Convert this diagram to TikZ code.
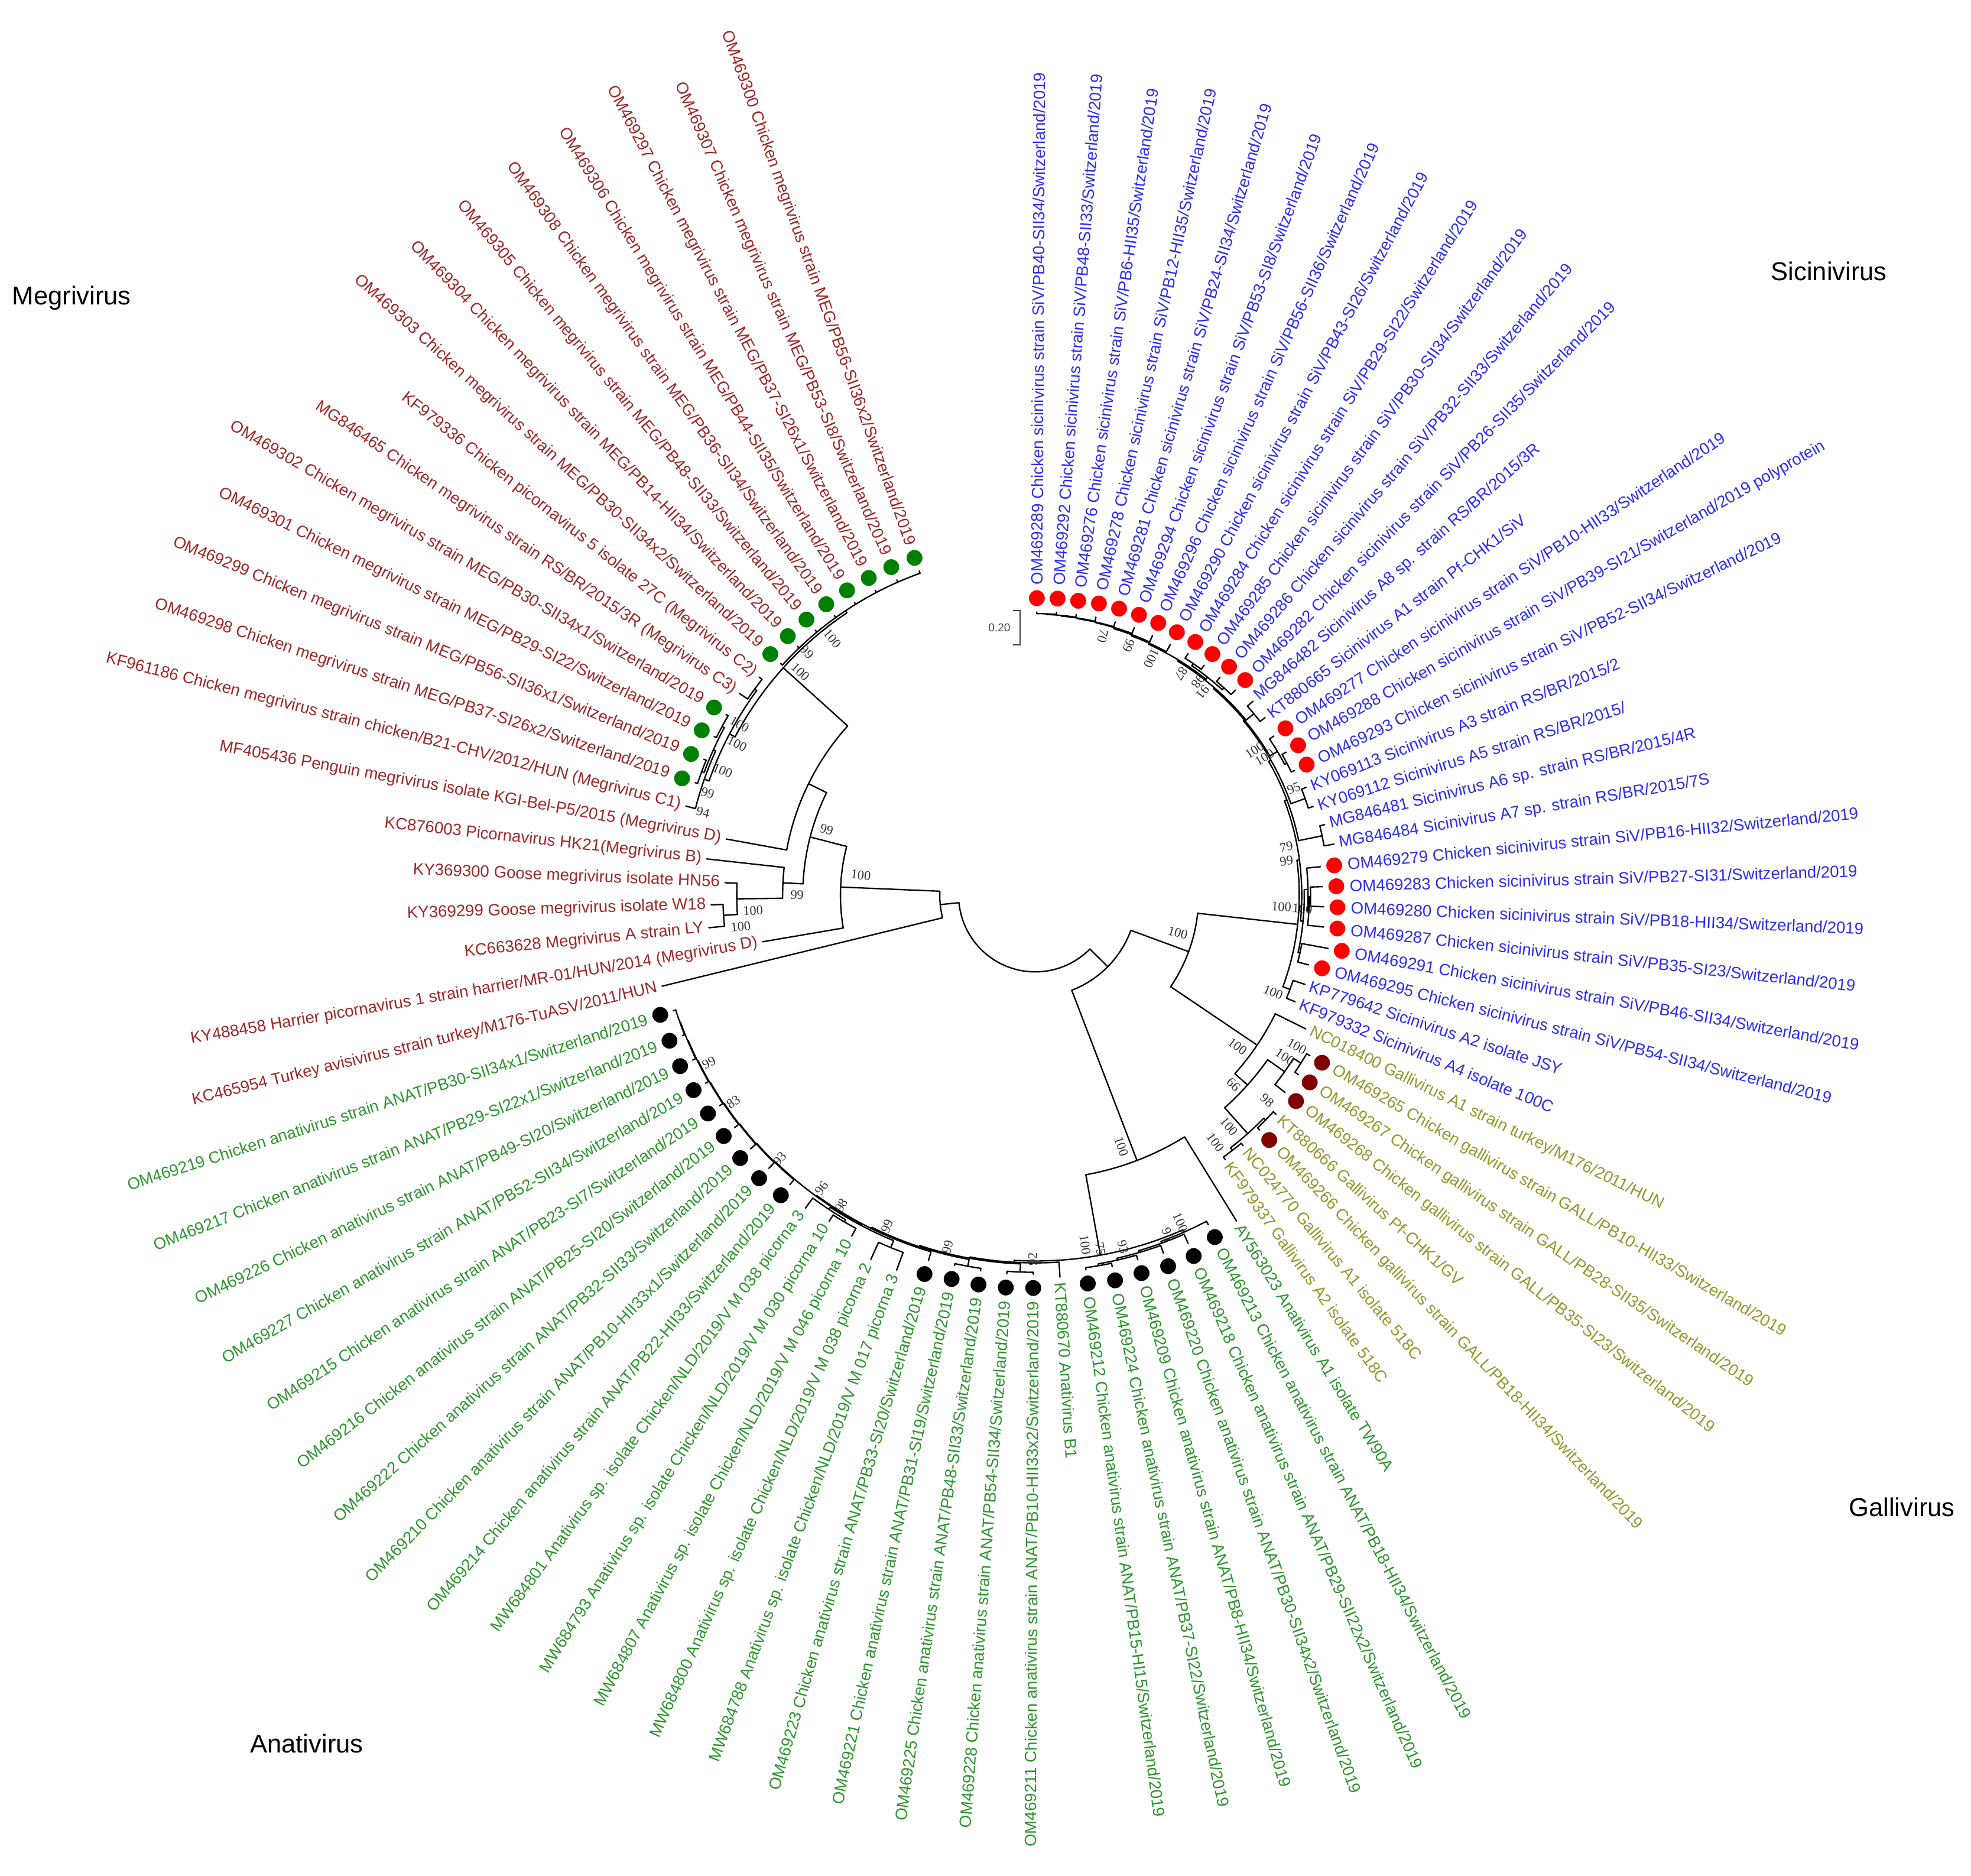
\documentclass[tikz,border=0pt]{standalone}
\usepackage{fontspec}
\setmainfont{Liberation Sans}
\newfontfamily\bsfont{Liberation Serif}
\definecolor{sic}{RGB}{45,45,245}
\definecolor{meg}{RGB}{160,40,40}
\definecolor{gal}{RGB}{150,150,45}
\definecolor{ana}{RGB}{45,150,45}
\definecolor{dgreen}{RGB}{0,128,0}
\definecolor{dred}{RGB}{128,0,0}
\def\nonestr{none}
\newcommand\tArc[3]{\draw[br] (#1:#3pt) arc[start angle=#1,end angle=#2,radius=#3pt];}
\newcommand\tRad[3]{\draw[br] (#1:#2pt) -- (#1:#3pt);}
\newcommand\tLeaf[6]{%
  \pgfmathsetmacro\ang{89.7-4*#1}%
  \draw[br] (\ang:#2pt) -- (\ang:#3pt);%
  \def\leafdot{#5}%
  \ifx\leafdot\nonestr
    \pgfmathsetmacro\lr{#3+4}%
  \else
    \pgfmathsetmacro\dr{#3+11}%
    \fill[#5] (\ang:\dr pt) circle[radius=6.3pt];%
    \pgfmathsetmacro\lr{#3+21.5}%
  \fi
  \ifnum#1<45
    \node[lbl,text=#4,anchor=west,rotate=\ang] (l#1) at (\ang:\lr pt) {#6};%
  \else
    \pgfmathsetmacro\angf{\ang+180}%
    \node[lbl,text=#4,anchor=east,rotate=\angf] (l#1) at (\ang:\lr pt) {#6};%
  \fi}
\newcommand\tBoot[3]{\pgfmathsetmacro\brot{cos(#1)<0 ? #1+180 : #1}%
  \node[bs,rotate=\brot] at (#1:#2pt) {#3};}
\newcommand\tBootF[3]{\pgfmathsetmacro\brot{cos(#1)<0 ? #1 : #1+180}%
  \node[bs,rotate=\brot] at (#1:#2pt) {#3};}
\begin{document}
\begin{tikzpicture}[x=1pt,y=1pt,
  br/.style={line width=1.1pt,black,line cap=round},
  lbl/.style={font=\fontsize{13}{15}\selectfont,inner sep=0pt},
  bs/.style={font=\bsfont\fontsize{10.5}{12}\selectfont,inner sep=0pt,text=black!80},
  clade/.style={font=\fontsize{20.5}{24}\selectfont,text=black,inner sep=0pt}]
\useasboundingbox (0,0) rectangle (1568,1492);
\fill[white] (0,0) rectangle (1568,1492);
\begin{scope}[shift={(823.6,779.9)}]
% ---------- root and megrivirus side
\tArc{185.65}{315.39}{61}
\tRad{185.65}{61}{76} \tArc{177.61}{193.7}{76}
\tRad{177.61}{76}{155} \tArc{165.51}{189.7}{155}
\tRad{165.51}{155}{185} \tArc{153.825}{177.2}{185}
\tRad{177.2}{185}{201} \tArc{173.7}{180.7}{201}
\tRad{180.7}{201}{237.5} \tArc{177.7}{183.7}{237.5}
\tRad{183.7}{237.5}{248.5} \tArc{181.7}{185.7}{248.5}
\tRad{153.825}{185}{201} \tArc{137.95}{169.7}{201}
\tRad{137.95}{201}{270} \tArc{123.7}{152.2}{270}
\tRad{123.7}{270}{272} \tArc{109.7}{137.7}{272}
\tRad{152.2}{270}{275} \tArc{143.7}{160.7}{275}
\tRad{143.7}{275}{277} \tArc{141.7}{145.7}{277}
\tRad{160.7}{275}{279} \tArc{155.7}{165.7}{279}
\tRad{155.7}{279}{281} \tArc{151.7}{159.7}{281}
\tRad{159.7}{281}{283} \tArc{157.7}{161.7}{283}
\tRad{151.7}{281}{283} \tArc{149.7}{153.7}{283}
% ---------- Y
\tRad{315.39}{61}{81} \tArc{290.975}{339.8}{81}
% ---------- Anativirus
\tRad{290.975}{81}{226} \tArc{280.25}{301.7}{226}
\tRad{280.25}{226}{291} \tArc{266.7}{293.8}{291}
\tRad{293.8}{291}{293} \tArc{289.95}{297.7}{293}
\tRad{289.95}{293}{294.5} \tArc{286.2}{293.7}{294.5}
\tRad{286.2}{294.5}{296} \tArc{282.7}{289.7}{296}
\tRad{282.7}{296}{297.5} \tArc{279.7}{285.7}{297.5}
\tRad{279.7}{297.5}{299} \tArc{277.7}{281.7}{299}
\tRad{266.7}{291}{292.5} \tArc{259.73}{273.7}{292.5}
\tRad{259.73}{292.5}{293.5} \tArc{251.76}{267.7}{293.5}
\tRad{267.7}{293.5}{300} \tArc{265.7}{269.7}{300}
\tRad{251.76}{293.5}{294.5} \tArc{243.8}{259.7}{294.5}
\tRad{259.7}{294.5}{300} \tArc{257.7}{261.7}{300}
\tRad{243.8}{294.5}{295.5} \tArc{233.96}{253.7}{295.5}
\tRad{233.96}{295.5}{296.2} \tArc{225.715}{242.2}{296.2}
\tRad{242.2}{296.2}{297} \tArc{236.7}{247.7}{297}
\tRad{247.7}{297}{303} \tArc{245.7}{249.7}{303}
\tRad{236.7}{297}{299} \tArc{233.7}{239.7}{299}
\tRad{239.7}{299}{301} \tArc{237.7}{241.7}{301}
\tRad{225.715}{296.2}{296.8} \tArc{221.73}{229.7}{296.8}
\tRad{221.73}{296.8}{297.3} \tArc{217.76}{225.7}{297.3}
\tRad{217.76}{297.3}{297.8} \tArc{213.825}{221.7}{297.8}
\tRad{213.825}{297.8}{298.3} \tArc{209.95}{217.7}{298.3}
\tRad{209.95}{298.3}{298.8} \tArc{206.2}{213.7}{298.8}
\tRad{206.2}{298.8}{299.3} \tArc{202.7}{209.7}{299.3}
\tRad{202.7}{299.3}{299.8} \tArc{199.7}{205.7}{299.8}
\tRad{199.7}{299.8}{300.3} \tArc{197.7}{201.7}{300.3}
% ---------- Z and Gallivirus
\tRad{339.8}{81}{130} \tArc{325.95}{353.65}{130}
\tRad{325.95}{130}{213} \tArc{318.2}{333.7}{213}
\tRad{318.2}{213}{226.5} \tArc{311.7}{324.7}{226.5}
\tRad{324.7}{226.5}{243} \tArc{321.7}{327.7}{243}
\tRad{327.7}{243}{250} \tArc{325.7}{329.7}{250}
\tRad{311.7}{226.5}{254} \tArc{307.7}{315.7}{254}
\tRad{315.7}{254}{256} \tArc{313.7}{317.7}{256}
\tRad{307.7}{254}{256.5} \tArc{305.7}{309.7}{256.5}
% ---------- Sicinivirus
\tRad{353.65}{130}{210} \tArc{-20.3}{7.605}{210}
\tRad{-20.3}{210}{216} \tArc{-22.3}{-18.3}{216}
\tRad{7.605}{210}{212} \tArc{-5.55}{20.76}{212}
\tRad{-5.55}{212}{214} \tArc{-12.3}{1.2}{214}
\tRad{1.2}{214}{217} \tArc{-3.3}{5.7}{217}
\tRad{-3.3}{217}{218} \tArc{-6.3}{-0.3}{218}
\tRad{-0.3}{218}{219} \tArc{-2.3}{1.7}{219}
\tRad{-12.3}{214}{215.5} \tArc{-14.3}{-10.3}{215.5}
\tRad{20.76}{212}{214} \tArc{11.7}{29.82}{214}
\tRad{11.7}{214}{233} \tArc{9.7}{13.7}{233}
\tRad{29.82}{214}{216} \tArc{19.7}{39.95}{216}
\tRad{19.7}{216}{228} \tArc{17.7}{21.7}{228}
\tRad{39.95}{216}{217} \tArc{30.7}{49.19}{217}
\tRad{30.7}{217}{224} \tArc{27.7}{33.7}{224}
\tRad{27.7}{224}{226} \tArc{25.7}{29.7}{226}
\tRad{49.19}{217}{218} \tArc{39.7}{58.68}{218}
\tRad{39.7}{218}{226} \tArc{37.7}{41.7}{226}
\tRad{58.68}{218}{219} \tArc{51.7}{65.67}{219}
\tRad{51.7}{219}{221} \tArc{47.7}{55.7}{221}
\tRad{55.7}{221}{223} \tArc{53.7}{57.7}{223}
\tRad{47.7}{221}{223} \tArc{45.7}{49.7}{223}
\tRad{65.67}{219}{220} \tArc{61.7}{69.64}{220}
\tRad{69.64}{220}{221} \tArc{65.7}{73.575}{221}
\tRad{73.575}{221}{222} \tArc{69.7}{77.45}{222}
\tRad{77.45}{222}{222.5} \tArc{73.7}{81.2}{222.5}
\tRad{81.2}{222.5}{223} \tArc{77.7}{84.7}{223}
\tRad{84.7}{223}{223.5} \tArc{81.7}{87.7}{223.5}
\tRad{87.7}{223.5}{224} \tArc{85.7}{89.7}{224}
% ---------- leaves
\tLeaf{0}{224}{225.3}{sic}{red}{OM469289 Chicken sicinivirus strain SiV/PB40-SII34/Switzerland/2019}
\tLeaf{1}{224}{225.6}{sic}{red}{OM469292 Chicken sicinivirus strain SiV/PB48-SII33/Switzerland/2019}
\tLeaf{2}{223.5}{225.7}{sic}{red}{OM469276 Chicken sicinivirus strain SiV/PB6-HII35/Switzerland/2019}
\tLeaf{3}{223}{226.5}{sic}{red}{OM469278 Chicken sicinivirus strain SiV/PB12-HII35/Switzerland/2019}
\tLeaf{4}{222.5}{226.5}{sic}{red}{OM469281 Chicken sicinivirus strain SiV/PB24-SII34/Switzerland/2019}
\tLeaf{5}{222}{226.8}{sic}{red}{OM469294 Chicken sicinivirus strain SiV/PB53-SI8/Switzerland/2019}
\tLeaf{6}{221}{226.6}{sic}{red}{OM469296 Chicken sicinivirus strain SiV/PB56-SII36/Switzerland/2019}
\tLeaf{7}{220}{226.6}{sic}{red}{OM469290 Chicken sicinivirus strain SiV/PB43-SI26/Switzerland/2019}
\tLeaf{8}{223}{227.3}{sic}{red}{OM469284 Chicken sicinivirus strain SiV/PB29-SI22/Switzerland/2019}
\tLeaf{9}{223}{227}{sic}{red}{OM469285 Chicken sicinivirus strain SiV/PB30-SII34/Switzerland/2019}
\tLeaf{10}{223}{227.3}{sic}{red}{OM469286 Chicken sicinivirus strain SiV/PB32-SII33/Switzerland/2019}
\tLeaf{11}{223}{228.1}{sic}{red}{OM469282 Chicken sicinivirus strain SiV/PB26-SII35/Switzerland/2019}
\tLeaf{12}{226}{232}{sic}{none}{MG846482 Sicinivirus A8 sp. strain RS/BR/2015/3R}
\tLeaf{13}{226}{231}{sic}{none}{KT880665 Sicinivirus A1 strain Pf-CHK1/SiV}
\tLeaf{14}{224}{228.2}{sic}{red}{OM469277 Chicken sicinivirus strain SiV/PB10-HII33/Switzerland/2019}
\tLeaf{15}{226}{229.7}{sic}{red}{OM469288 Chicken sicinivirus strain SiV/PB39-SI21/Switzerland/2019 polyprotein}
\tLeaf{16}{226}{228.6}{sic}{red}{OM469293 Chicken sicinivirus strain SiV/PB52-SII34/Switzerland/2019}
\tLeaf{17}{228}{232}{sic}{none}{KY069113 Sicinivirus A3 strain RS/BR/2015/2}
\tLeaf{18}{228}{232}{sic}{none}{KY069112 Sicinivirus A5 strain RS/BR/2015/}
\tLeaf{19}{233}{237}{sic}{none}{MG846481 Sicinivirus A6 sp. strain RS/BR/2015/4R}
\tLeaf{20}{233}{241}{sic}{none}{MG846484 Sicinivirus A7 sp. strain RS/BR/2015/7S}
\tLeaf{21}{217}{228}{sic}{red}{OM469279 Chicken sicinivirus strain SiV/PB16-HII32/Switzerland/2019}
\tLeaf{22}{219}{228.6}{sic}{red}{OM469283 Chicken sicinivirus strain SiV/PB27-SI31/Switzerland/2019}
\tLeaf{23}{219}{229.6}{sic}{red}{OM469280 Chicken sicinivirus strain SiV/PB18-HII34/Switzerland/2019}
\tLeaf{24}{218}{230.8}{sic}{red}{OM469287 Chicken sicinivirus strain SiV/PB35-SI23/Switzerland/2019}
\tLeaf{25}{215.5}{236.8}{sic}{red}{OM469291 Chicken sicinivirus strain SiV/PB46-SII34/Switzerland/2019}
\tLeaf{26}{215.5}{224.4}{sic}{red}{OM469295 Chicken sicinivirus strain SiV/PB54-SII34/Switzerland/2019}
\tLeaf{27}{216}{226}{sic}{none}{KP779642 Sicinivirus A2 isolate JSY}
\tLeaf{28}{216}{223.5}{sic}{none}{KF979332 Sicinivirus A4 isolate 100C}
\tLeaf{29}{213}{240}{gal}{none}{NC018400 Gallivirus A1 strain turkey/M176/2011/HUN}
\tLeaf{30}{250}{253.2}{gal}{dred}{OM469265 Chicken gallivirus strain GALL/PB10-HII33/Switzerland/2019}
\tLeaf{31}{250}{253.3}{gal}{dred}{OM469267 Chicken gallivirus strain GALL/PB28-SII35/Switzerland/2019}
\tLeaf{32}{243}{253.3}{gal}{dred}{OM469268 Chicken gallivirus strain GALL/PB35-SI23/Switzerland/2019}
\tLeaf{33}{256}{259}{gal}{none}{KT880666 Gallivirus Pf-CHK1/GV}
\tLeaf{34}{256}{258.4}{gal}{dred}{OM469266 Chicken gallivirus strain GALL/PB18-HII34/Switzerland/2019}
\tLeaf{35}{256.5}{259}{gal}{none}{NC024770 Gallivirus A1 isolate 518C}
\tLeaf{36}{256.5}{259}{gal}{none}{KF979337 Gallivirus A2 isolate 518C}
\tLeaf{37}{226}{304.7}{ana}{none}{AY563023 Anativirus A1 isolate TW90A}
\tLeaf{38}{293}{296.2}{ana}{black}{OM469213 Chicken anativirus strain ANAT/PB18-HII34/Switzerland/2019}
\tLeaf{39}{294.5}{302.5}{ana}{black}{OM469218 Chicken anativirus strain ANAT/PB29-SII22x2/Switzerland/2019}
\tLeaf{40}{296}{302.5}{ana}{black}{OM469220 Chicken anativirus strain ANAT/PB30-SII34x2/Switzerland/2019}
\tLeaf{41}{297.5}{301.3}{ana}{black}{OM469209 Chicken anativirus strain ANAT/PB8-HII34/Switzerland/2019}
\tLeaf{42}{299}{301.9}{ana}{black}{OM469224 Chicken anativirus strain ANAT/PB37-SI22/Switzerland/2019}
\tLeaf{43}{299}{300.7}{ana}{black}{OM469212 Chicken anativirus strain ANAT/PB15-HI15/Switzerland/2019}
\tLeaf{44}{292.5}{304.6}{ana}{none}{KT880670 Anativirus B1}
\tLeaf{45}{300}{301.5}{ana}{black}{OM469211 Chicken anativirus strain ANAT/PB10-HII33x2/Switzerland/2019}
\tLeaf{46}{300}{302}{ana}{black}{OM469228 Chicken anativirus strain ANAT/PB54-SII34/Switzerland/2019}
\tLeaf{47}{300}{302}{ana}{black}{OM469225 Chicken anativirus strain ANAT/PB48-SII33/Switzerland/2019}
\tLeaf{48}{300}{301.5}{ana}{black}{OM469221 Chicken anativirus strain ANAT/PB31-SI19/Switzerland/2019}
\tLeaf{49}{295.5}{303}{ana}{black}{OM469223 Chicken anativirus strain ANAT/PB33-SI20/Switzerland/2019}
\tLeaf{50}{303}{318}{ana}{none}{MW684788 Anativirus sp. isolate Chicken/NLD/2019/V M 017 picorna 3}
\tLeaf{51}{303}{318}{ana}{none}{MW684800 Anativirus sp. isolate Chicken/NLD/2019/V M 038 picorna 2}
\tLeaf{52}{301}{308}{ana}{none}{MW684807 Anativirus sp. isolate Chicken/NLD/2019/V M 046 picorna 10}
\tLeaf{53}{301}{307}{ana}{none}{MW684793 Anativirus sp. isolate Chicken/NLD/2019/V M 030 picorna 10}
\tLeaf{54}{299}{309}{ana}{none}{MW684801 Anativirus sp. isolate Chicken/NLD/2019/V M 038 picorna 3}
\tLeaf{55}{296.8}{302}{ana}{black}{OM469214 Chicken anativirus strain ANAT/PB22-HII33/Switzerland/2019}
\tLeaf{56}{297.3}{303.6}{ana}{black}{OM469210 Chicken anativirus strain ANAT/PB10-HII33x1/Switzerland/2019}
\tLeaf{57}{297.8}{303.4}{ana}{black}{OM469222 Chicken anativirus strain ANAT/PB32-SII33/Switzerland/2019}
\tLeaf{58}{298.3}{302.3}{ana}{black}{OM469216 Chicken anativirus strain ANAT/PB25-SI20/Switzerland/2019}
\tLeaf{59}{298.8}{302}{ana}{black}{OM469215 Chicken anativirus strain ANAT/PB23-SI7/Switzerland/2019}
\tLeaf{60}{299.3}{302}{ana}{black}{OM469227 Chicken anativirus strain ANAT/PB52-SII34/Switzerland/2019}
\tLeaf{61}{299.8}{302.6}{ana}{black}{OM469226 Chicken anativirus strain ANAT/PB49-SI20/Switzerland/2019}
\tLeaf{62}{300.3}{302.2}{ana}{black}{OM469217 Chicken anativirus strain ANAT/PB29-SI22x1/Switzerland/2019}
\tLeaf{63}{300.3}{302.2}{ana}{black}{OM469219 Chicken anativirus strain ANAT/PB30-SII34x1/Switzerland/2019}
\tLeaf{64}{76}{305.7}{meg}{none}{KC465954 Turkey avisivirus strain turkey/M176-TuASV/2011/HUN}
\tLeaf{65}{155}{220}{meg}{none}{KY488458 Harrier picornavirus 1 strain harrier/MR-01/HUN/2014 (Megrivirus D)}
\tLeaf{66}{248.5}{261}{meg}{none}{KC663628 Megrivirus A strain LY}
\tLeaf{67}{248.5}{258}{meg}{none}{KY369299 Goose megrivirus isolate W18}
\tLeaf{68}{237.5}{247}{meg}{none}{KY369300 Goose megrivirus isolate HN56}
\tLeaf{69}{201}{263}{meg}{none}{KC876003 Picornavirus HK21(Megrivirus B)}
\tLeaf{70}{201}{250}{meg}{none}{MF405436 Penguin megrivirus isolate KGI-Bel-P5/2015 (Megrivirus D)}
\tLeaf{71}{279}{287}{meg}{none}{KF961186 Chicken megrivirus strain chicken/B21-CHV/2012/HUN (Megrivirus C1)}
\tLeaf{72}{283}{285}{meg}{dgreen}{OM469298 Chicken megrivirus strain MEG/PB37-SI26x2/Switzerland/2019}
\tLeaf{73}{283}{285}{meg}{dgreen}{OM469299 Chicken megrivirus strain MEG/PB56-SII36x1/Switzerland/2019}
\tLeaf{74}{283}{285}{meg}{dgreen}{OM469301 Chicken megrivirus strain MEG/PB29-SI22/Switzerland/2019}
\tLeaf{75}{283}{285}{meg}{dgreen}{OM469302 Chicken megrivirus strain MEG/PB30-SII34x1/Switzerland/2019}
\tLeaf{76}{277}{285}{meg}{none}{MG846465 Chicken megrivirus strain RS/BR/2015/3R (Megrivirus C3)}
\tLeaf{77}{277}{280}{meg}{none}{KF979336 Chicken picornavirus 5 isolate 27C (Megrivirus C2)}
\tLeaf{78}{272}{274}{meg}{dgreen}{OM469303 Chicken megrivirus strain MEG/PB30-SII34x2/Switzerland/2019}
\tLeaf{79}{272}{274}{meg}{dgreen}{OM469304 Chicken megrivirus strain MEG/PB14-HII34/Switzerland/2019}
\tLeaf{80}{272}{274}{meg}{dgreen}{OM469305 Chicken megrivirus strain MEG/PB48-SII33/Switzerland/2019}
\tLeaf{81}{272}{274}{meg}{dgreen}{OM469308 Chicken megrivirus strain MEG/PB36-SII34/Switzerland/2019}
\tLeaf{82}{272}{274}{meg}{dgreen}{OM469306 Chicken megrivirus strain MEG/PB44-SII35/Switzerland/2019}
\tLeaf{83}{272}{274}{meg}{dgreen}{OM469297 Chicken megrivirus strain MEG/PB37-SI26x1/Switzerland/2019}
\tLeaf{84}{272}{274}{meg}{dgreen}{OM469307 Chicken megrivirus strain MEG/PB53-SI8/Switzerland/2019}
\tLeaf{85}{272}{274}{meg}{dgreen}{OM469300 Chicken megrivirus strain MEG/PB56-SII36x2/Switzerland/2019}
% ---------- bootstrap values
\tBoot{173.4}{139.7}{100}
\tBoot{162.6}{174}{99}
\tBoot{180}{189.5}{99}
\tBoot{183.1}{224.9}{100}
\tBoot{186.1}{235.7}{100}
\tBoot{136.4}{257.7}{100}
\tBoot{133.2}{265.4}{99}
\tBoot{128.3}{260}{100}
\tBoot{150}{271.7}{100}
\tBoot{153.1}{266}{100}
\tBoot{158.3}{267.8}{100}
\tBoot{162.7}{273}{99}
\tBoot{166}{272.5}{94}
\tBootF{75.4}{213}{70}
\tBootF{69.5}{212}{99}
\tBootF{63.9}{210}{100}
\tBootF{56.6}{211}{87}
\tBootF{52.7}{214}{98}
\tBootF{50.5}{209.5}{91}
\tBoot{33.5}{209.2}{100}
\tBoot{31}{212.7}{100}
\tBoot{22.5}{222.6}{95}
\tBoot{10.9}{203.4}{79}
\tBoot{7.8}{201.7}{99}
\tBoot{-2.7}{196}{100}
\tBoot{-2.9}{212.7}{100}
\tBoot{-22.2}{204.4}{100}
\tBoot{345.2}{117.3}{100}
\tBoot{323.2}{200.8}{100}
\tBootF{316.3}{218.1}{99}
\tBoot{330}{240.3}{100}
\tBoot{327.1}{236.6}{100}
\tBoot{318.5}{246.2}{98}
\tBoot{310}{240.1}{100}
\tBoot{306.1}{243.3}{100}
\tBoot{288.9}{211.2}{100}
\tBoot{278.1}{280.9}{100}
\tBoot{280.4}{286.1}{75}
\tBoot{284}{288.3}{93}
\tBoot{291.4}{289.9}{95}
\tBoot{293.9}{284.7}{100}
\tBoot{269.6}{289.6}{92}
\tBoot{256}{288.4}{99}
\tBoot{245.9}{288.5}{99}
\tBoot{238}{291}{98}
\tBoot{233.9}{288.3}{96}
\tBoot{225.9}{291.9}{93}
\tBoot{214.4}{291.2}{83}
\tBoot{207.2}{291.9}{99}
\end{scope}
% ---------- scale bar
\coordinate (sb1) at (805.7,1006.4);
\coordinate (sb2) at (811.5,1006.4);
\coordinate (sb3) at (811.5,979.1);
\coordinate (sb4) at (805.7,979.1);
\draw[line width=1pt,black!75] (sb1) -- (sb2) -- (sb3) -- (sb4);
\node[font=\fontsize{9}{11}\selectfont,text=black!70,inner sep=0pt] (sbl) at (795,992.8) {0.20};
% ---------- clade names
\node[clade] (cMeg) at (57,1255) {Megrivirus};
\node[clade] (cSic) at (1455,1276) {Sicinivirus};
\node[clade] (cGal) at (1513,293) {Gallivirus};
\node[clade] (cAna) at (244,105) {Anativirus};
\end{tikzpicture}
\end{document}
